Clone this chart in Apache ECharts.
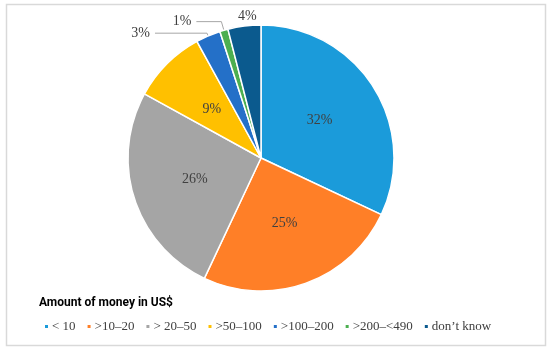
<!DOCTYPE html>
<html><head><meta charset="utf-8">
<script src="https://cdn.jsdelivr.net/npm/echarts@6/dist/echarts.min.js"></script>
<style>html,body{margin:0;padding:0;background:#fff}#c{width:550px;height:351px}</style>
</head><body><div id="c"></div>
<script>
const categories = ['< 10', '>10–20', '> 20–50', '>50–100', '>100–200', '>200–<490', 'don’t know'];
const values = [32, 25, 26, 9, 3, 1, 4];
const colors = ['#1B9BDA', '#FF7F27', '#A5A5A5', '#FFC000', '#2470C8', '#4CAF50', '#0B5A8E'];
const legendTitle = 'Amount of money in US$';

const serif = '"Liberation Serif", "DejaVu Serif", serif';
const labelCfg = [
  {position: 'inside'}, {position: 'inside'}, {position: 'inside'}, {position: 'inside'},
  {position: 'outside', line: true, len: 3, len2: 52},
  {position: 'outside', line: true, len: 9, len2: 25},
  {position: 'outside', line: false, len: 10, len2: 0}
];
const data = categories.map((n, i) => {
  const c = labelCfg[i];
  const d = {name: n, value: values[i], itemStyle: {color: colors[i]}, label: {position: c.position}};
  if (c.position === 'outside') {
    d.labelLine = {show: c.line, length: c.len, length2: c.len2, lineStyle: {color: '#a6a6a6', width: 1}};
  }
  return d;
});

const chart = echarts.init(document.getElementById('c'));
chart.setOption({
  animation: false,
  graphic: [{type: 'rect', shape: {x: 6.5, y: 4.5, width: 539, height: 341}, style: {fill: 'none', stroke: '#d9d9d9', lineWidth: 1.5}}],
  title: {text: legendTitle, left: 34, top: 292, textStyle: {fontFamily: 'Roboto, sans-serif', fontSize: 12, fontWeight: 'bold', color: '#000'}},
  legend: {
    data: categories, left: 38, top: 315, icon: 'rect', itemWidth: 5, itemHeight: 5, itemGap: 10,
    textStyle: {fontFamily: serif, fontSize: 13, color: '#404040', padding: [0, 0, 0, -2]}
  },
  series: [{
    type: 'pie', center: [261, 158], radius: 133, startAngle: 90, clockwise: true,
    avoidLabelOverlap: false,
    data: data,
    itemStyle: {borderColor: '#fff', borderWidth: 1.5},
    label: {formatter: '{d}%', fontFamily: serif, fontSize: 14, color: '#404040'},
    labelLine: {show: true},
    labelLayout: function (p) {
      if (p.dataIndex === 6) return {align: 'left'};
      return {};
    }
  }]
});
</script></body></html>
